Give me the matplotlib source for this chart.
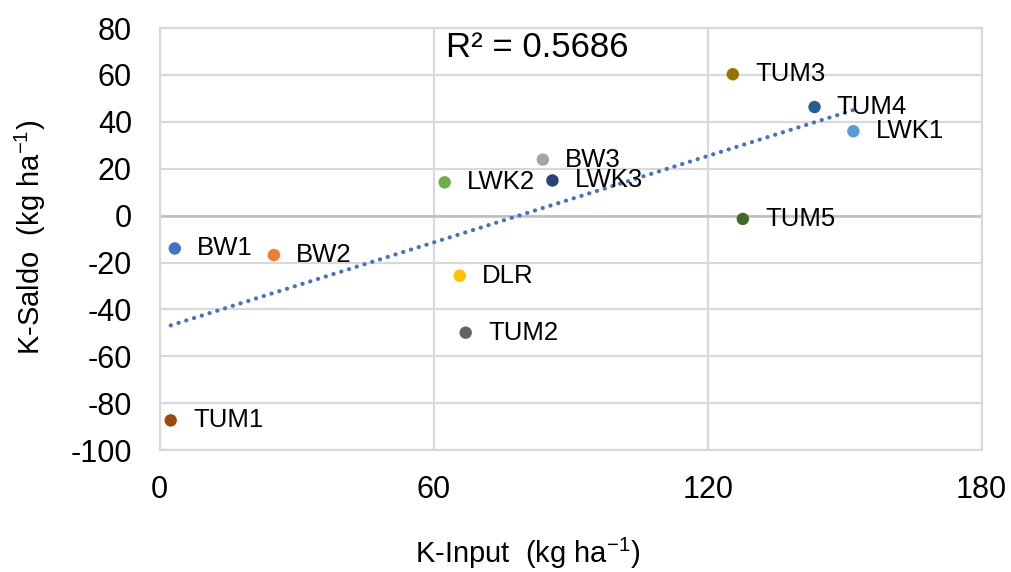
import numpy as np
import matplotlib
matplotlib.use('Agg')
import matplotlib.pyplot as plt

plt.rcParams['font.family'] = ['Liberation Sans', 'DejaVu Sans']
plt.rcParams['mathtext.fontset'] = 'custom'
plt.rcParams['mathtext.rm'] = 'Liberation Sans'
plt.rcParams['mathtext.it'] = 'Liberation Sans:italic'
plt.rcParams['axes.unicode_minus'] = False

# data
sites = ['BW1', 'BW2', 'BW3', 'DLR', 'LWK1', 'LWK2', 'LWK3',
         'TUM1', 'TUM2', 'TUM3', 'TUM4', 'TUM5']
k_input = [3.3, 25.0, 83.9, 65.7, 151.9, 62.4, 86.0,
           2.4, 67.0, 125.5, 143.4, 127.7]
k_saldo = [-14.0, -16.8, 23.9, -25.6, 36.0, 14.2, 15.0,
           -87.3, -49.9, 60.3, 46.3, -1.4]
colors = ['#4472C4', '#ED7D31', '#A5A5A5', '#FFC000', '#5B9BD5', '#70AD47',
          '#264478', '#9E480E', '#636363', '#997300', '#255E91', '#43682B']
r2_text = 'R² = 0.5686'

xticks = [0, 60, 120, 180]
yticks = list(range(-100, 81, 20))

fig = plt.figure(figsize=(10.11, 5.72), dpi=100)
ax = fig.add_axes([0.158, 0.213, 0.813, 0.738])

grid_c = '#D9D9D9'
ax.set_xlim(0, 180)
ax.set_ylim(-100, 80)
ax.set_xticks(xticks)
ax.set_yticks(yticks)
ax.grid(True, color=grid_c, lw=1.6, zorder=0)
ax.set_axisbelow(True)
for s in ax.spines.values():
    s.set_color(grid_c)
    s.set_linewidth(1.6)
ax.axhline(0, color='#BFBFBF', lw=1.8, zorder=1)
ax.tick_params(length=0, labelsize=22, colors='#000000')
ax.tick_params(axis='x', pad=18)
ax.tick_params(axis='y', pad=20)

# linear trend line, like the excel one
x = np.array(k_input)
y = np.array(k_saldo)
m, b = np.polyfit(x, y, 1)
xs = np.array([x.min(), x.max()])
ax.plot(xs, m * xs + b, color='#4472C4', lw=3.0, ls=(0, (0.05, 1.9)),
        dash_capstyle='round', zorder=2)

ax.scatter(x, y, s=80, c=colors, zorder=3, linewidths=0)
for name, xi, yi in zip(sites, k_input, k_saldo):
    ax.annotate(name, (xi, yi), xytext=(16, 0), textcoords='offset points',
                va='center', ha='left', fontsize=18.5, zorder=4)

ax.text(0.348, 0.954, r2_text, transform=ax.transAxes, fontsize=25,
        va='center', ha='left')

fig.text(0.522, 0.033, r'K-Input  (kg ha$^{\mathregular{-1}}$)', fontsize=21,
         ha='center', va='center')
fig.text(0.030, 0.585, r'K-Saldo  (kg ha$^{\mathregular{-1}}$)', fontsize=21,
         ha='center', va='center', rotation=90)

fig.savefig('out.png', dpi=100)
